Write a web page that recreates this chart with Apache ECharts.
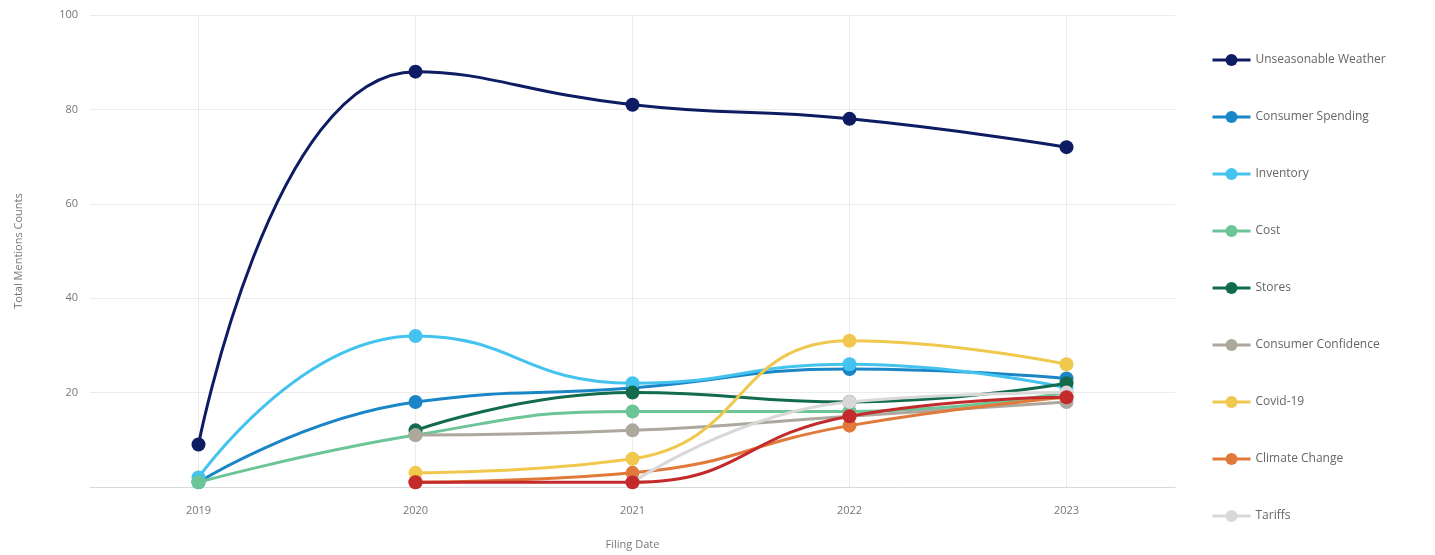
<!DOCTYPE html>
<html>
<head>
<meta charset="utf-8">
<script src="https://cdn.jsdelivr.net/npm/echarts@6/dist/echarts.min.js"></script>
<style>html,body{margin:0;padding:0;background:#fff}#c{width:1435px;height:555px}</style>
</head>
<body>
<div id="c"></div>
<script>
const years = ['2019', '2020', '2021', '2022', '2023'];
const unseasonableWeather = [9, 88, 81, 78, 72];
const consumerSpending = [1, 18, 21, 25, 23];
const inventory = [2, 32, 22, 26, 21];
const cost = [1, 11, 16, 16, 20];
const stores = [null, 12, 20, 18, 22];
const consumerConfidence = [null, 11, 12, 15, 18];
const covid19 = [null, 3, 6, 31, 26];
const climateChange = [null, 1, 3, 13, 19];
const tariffs = [null, null, 1, 18, 20];
const otherRed = [null, 1, 1, 15, 19];

const names = ['Unseasonable Weather', 'Consumer Spending', 'Inventory', 'Cost', 'Stores',
  'Consumer Confidence', 'Covid-19', 'Climate Change', 'Tariffs'];
const colors = ['#0e1d63', '#1b86c6', '#45c3ef', '#6cc596', '#136b4e', '#ada89e', '#f0c84e', '#e0793a', '#d8d8d8', '#c32a2b'];
const values = [unseasonableWeather, consumerSpending, inventory, cost, stores,
  consumerConfidence, covid19, climateChange, tariffs, otherRed];
const seriesNames = names.concat(['Supply Chain']);

const font = 'Open Sans';
const chart = echarts.init(document.getElementById('c'));
chart.setOption({
  animation: false,
  textStyle: { fontFamily: font },
  grid: { left: 90, right: 260, top: 15, bottom: 67 },
  legend: {
    data: names,
    orient: 'vertical',
    left: 1206,
    top: 49,
    itemWidth: 38,
    itemHeight: 15,
    itemGap: 45,
    lineStyle: { width: 3 },
    textStyle: { color: '#666', fontSize: 12, fontFamily: font, padding: [0, 0, 0, 0] }
  },
  xAxis: {
    type: 'category',
    data: years,
    boundaryGap: true,
    name: 'Filing Date',
    nameLocation: 'middle',
    nameGap: 52,
    nameTextStyle: { color: '#777', fontSize: 11 },
    axisLine: { lineStyle: { color: '#d9d9d9', width: 1 } },
    axisTick: { show: false },
    axisLabel: { color: '#777', fontSize: 11, margin: 18 },
    splitLine: { show: true, alignWithLabel: true, lineStyle: { color: '#ececec' } }
  },
  yAxis: {
    type: 'value',
    min: 0,
    max: 100,
    interval: 20,
    name: 'Total Mentions Counts',
    nameLocation: 'middle',
    nameGap: 66,
    nameTextStyle: { color: '#777', fontSize: 11 },
    axisLine: { show: false },
    axisTick: { show: false },
    axisLabel: { color: '#777', fontSize: 11, margin: 12, formatter: v => v === 0 ? '' : v },
    splitLine: { lineStyle: { color: '#ececec' } }
  },
  series: values.map((d, i) => ({
    name: seriesNames[i],
    type: 'line',
    smooth: true,
    data: d,
    symbol: 'circle',
    symbolSize: 14,
    showSymbol: true,
    itemStyle: { color: colors[i] },
    lineStyle: { color: colors[i], width: 3 },
    z: 2 + i
  }))
});
</script>
</body>
</html>
